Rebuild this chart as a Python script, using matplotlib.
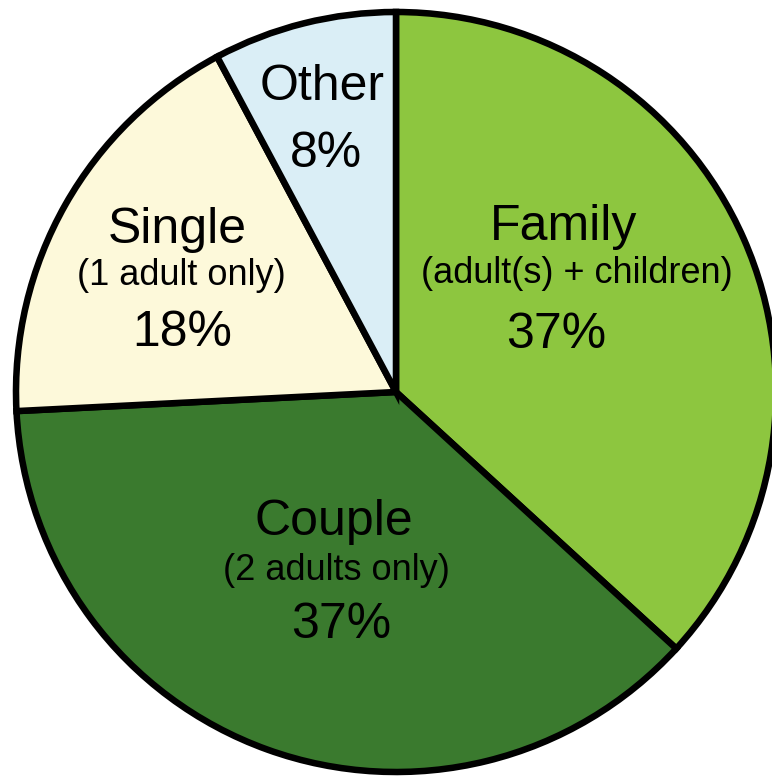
import matplotlib
matplotlib.use("Agg")
import matplotlib.pyplot as plt

# Data
categories = ["Family", "Couple", "Single", "Other"]
subtitles = ["(adult(s) + children)", "(2 adults only)", "(1 adult only)", ""]
values = [36.8, 37.4, 18.0, 7.8]
colors = ["#8DC63F", "#3A7A2E", "#FDF9DA", "#DAEEF6"]

# Layout (pixel positions measured on the reference, converted to data coords)
CX, CY, R = 396.0, 392.0, 380.0
W, H = 772, 778

def to_data(px, py):
    return (px - CX) / R, (CY - py) / R

# (name x, name baseline, sub x, sub baseline, pct x, pct baseline)
label_pos = {
    "Family": (564, 240, 577, 283, 556, 348),
    "Couple": (334, 535, 336, 580, 341, 638),
    "Single": (177, 243, 181, 285, 182, 346),
    "Other": (322, 100, None, None, 326, 167),
}

plt.rcParams["font.family"] = ["Liberation Sans", "DejaVu Sans"]

fig = plt.figure(figsize=(W / 100, H / 100), dpi=100)
ax = fig.add_axes([0, 0, 1, 1])
ax.pie(values, colors=colors, startangle=90, counterclock=False, radius=1.0,
       wedgeprops=dict(edgecolor="black", linewidth=4.7, joinstyle="miter"))
ax.set_aspect("auto")
ax.set_xlim((0 - CX) / R, (W - CX) / R)
ax.set_ylim((CY - H) / R, (CY - 0) / R)
ax.axis("off")

for cat, sub, v in zip(categories, subtitles, values):
    nx, ny, sx, sy, px, py = label_pos[cat]
    x, y = to_data(nx, ny)
    ax.text(x, y, cat, ha="center", va="baseline", fontsize=36, color="black")
    if sub and sx is not None:
        x, y = to_data(sx, sy)
        ax.text(x, y, sub, ha="center", va="baseline", fontsize=26, color="black")
    x, y = to_data(px, py)
    ax.text(x, y, f"{v:.0f}%", ha="center", va="baseline", fontsize=36, color="black")

fig.savefig("out.png", dpi=100)
